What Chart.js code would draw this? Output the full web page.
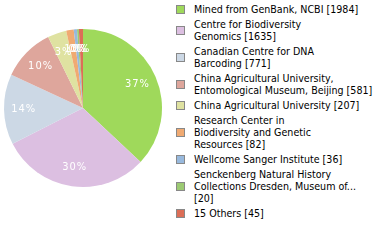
<!DOCTYPE html>
<html>
<head>
<meta charset="utf-8">
<script src="https://cdn.jsdelivr.net/npm/chart.js@4"></script>
<style>
body{margin:0;background:#fff;width:380px;height:240px;overflow:hidden;position:relative;font-family:"DejaVu Sans Condensed","DejaVu Sans",sans-serif;}
#wrap{position:absolute;left:0;top:0;width:166px;height:216px;}
#legend{position:absolute;left:176px;top:3px;width:204px;font-size:10.6px;line-height:12px;color:#000;}
.item{display:flex;align-items:center;margin-bottom:3px;}
.box{width:7px;height:7px;border:1px solid #888;flex:none;margin-right:9px;}
.txt{white-space:nowrap;}
</style>
</head>
<body>
<div id="wrap"><canvas id="pie"></canvas></div>
<div id="legend"></div>
<script>
// legend lines as wrapped in the original
const labels = [
["Mined from GenBank, NCBI"],
["Centre for Biodiversity","Genomics"],
["Canadian Centre for DNA","Barcoding"],
["China Agricultural University,","Entomological Museum, Beijing"],
["China Agricultural University"],
["Research Center in","Biodiversity and Genetic","Resources"],
["Wellcome Sanger Institute"],
["Senckenberg Natural History","Collections Dresden, Museum of...",""],
["15 Others"]
];
const counts = [1984,1635,771,581,207,82,36,20,45];
const colors = ["#9fd95b","#dcbfe1","#ccd8e5","#dea69c","#dfe2a1","#f0aa72","#98b9dd","#9cca73","#dc6e57"];

const total = counts.reduce((a,b)=>a+b,0);

const pctLabels = {
id:"pctLabels",
afterDatasetsDraw(chart){
const ctx = chart.ctx;
const meta = chart.getDatasetMeta(0);
ctx.save();
ctx.fillStyle = "#fff";
ctx.font = "11px 'DejaVu Sans Condensed'";
ctx.letterSpacing = "1px";
ctx.textAlign = "center";
ctx.textBaseline = "middle";
meta.data.forEach((arc,i)=>{
const p = arc.getProps(["x","y","startAngle","endAngle","outerRadius"],true);
const a = (p.startAngle+p.endAngle)/2;
const r = p.outerRadius*0.75;
const pct = Math.floor(counts[i]/total*100);
ctx.fillText(pct+"%", p.x+Math.cos(a)*r, p.y+Math.sin(a)*r);
});
ctx.restore();
}
};

new Chart(document.getElementById("pie"),{
type:"pie",
data:{
labels:labels.map(l=>l.join(" ").trim()),
datasets:[{
data:counts,
backgroundColor:colors,
borderWidth:0
}]
},
options:{
responsive:true,
maintainAspectRatio:false,
animation:false,
layout:{padding:4},
plugins:{
legend:{display:false},
tooltip:{enabled:false}
}
},
plugins:[pctLabels]
});

const legend = document.getElementById("legend");
labels.forEach((l,i)=>{
const lines = l.slice();
const last = lines.length-1;
lines[last] = (lines[last] ? lines[last]+" " : "")+"["+counts[i]+"]";
const row = document.createElement("div");
row.className = "item";
row.innerHTML = `<span class="box" style="background:${colors[i]}"></span><span class="txt">${lines.join("<br>")}</span>`;
legend.appendChild(row);
});
</script>
</body>
</html>
